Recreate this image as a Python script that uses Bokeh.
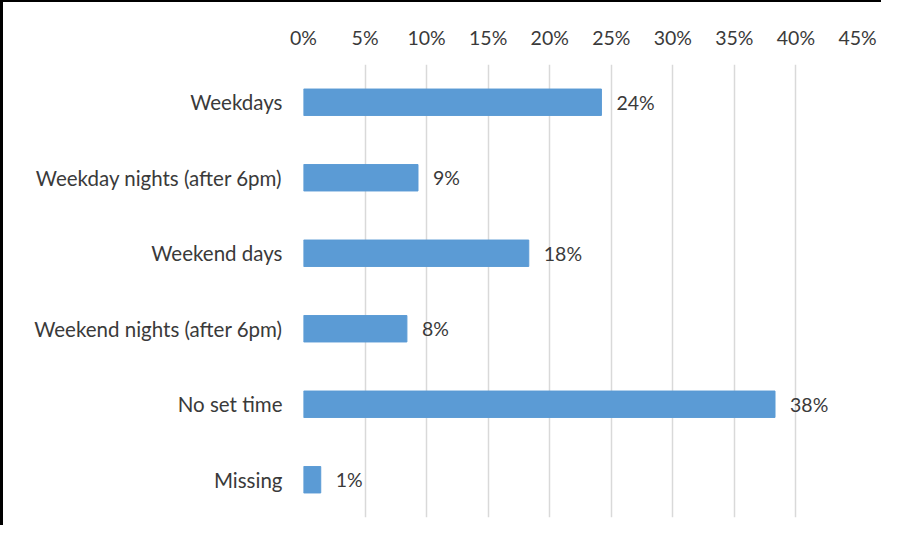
from bokeh.plotting import figure
from bokeh.models import ColumnDataSource, FactorRange, Range1d, FixedTicker, CustomJSTickFormatter, InlineStyleSheet
from bokeh.core.properties import value
from bokeh.embed import file_html
from bokeh.resources import INLINE

categories = ["Weekdays", "Weekday nights (after 6pm)", "Weekend days",
              "Weekend nights (after 6pm)", "No set time", "Missing"]
values = [24.2, 9.3, 18.3, 8.4, 38.3, 1.4]
labels = ["24%", "9%", "18%", "8%", "38%", "1%"]
ticks = [0, 5, 10, 15, 20, 25, 30, 35, 40, 45]

FONT = "Lato"
TXT = "#3a3a3a"

src = ColumnDataSource(dict(cat=categories, val=values, lab=labels))

p = figure(width=881, height=525, output_backend="svg", toolbar_location=None,
           y_range=FactorRange(factors=categories[::-1]),
           x_range=Range1d(0, 45), x_axis_location="above",
           min_border_left=300, min_border_right=27, min_border_top=62,
           min_border_bottom=10)
p.outline_line_color = None
p.hbar(y="cat", right="val", height=0.35, source=src, color="#5B9BD5")
p.text(x="val", y="cat", text="lab", source=src, x_offset=15,
       text_baseline="middle", text_align="left", text_font=value(FONT),
       text_font_size="19.5px", text_color=TXT)

xa = p.xaxis[0]
xa.ticker = FixedTicker(ticks=ticks)
xa.formatter = CustomJSTickFormatter(code="return tick + '%';")
xa.axis_line_color = None
xa.major_tick_line_color = None
xa.minor_tick_line_color = None
xa.major_label_text_font = FONT
xa.major_label_text_font_size = "19.5px"
xa.major_label_text_color = TXT
xa.major_label_standoff = 10

ya = p.yaxis[0]
ya.axis_line_color = None
ya.major_tick_line_color = None
ya.minor_tick_line_color = None
ya.major_label_text_font = FONT
ya.major_label_text_font_size = "20.5px"
ya.major_label_text_color = TXT
ya.major_label_standoff = 15

p.xgrid.grid_line_color = "#D9D9D9"
p.xgrid.grid_line_width = 1.5
p.ygrid.grid_line_color = None

p.stylesheets = [InlineStyleSheet(css=":host { border-left: 3px solid black; border-top: 2px solid black; }")]

open("out.html", "w").write(file_html(p, INLINE))
